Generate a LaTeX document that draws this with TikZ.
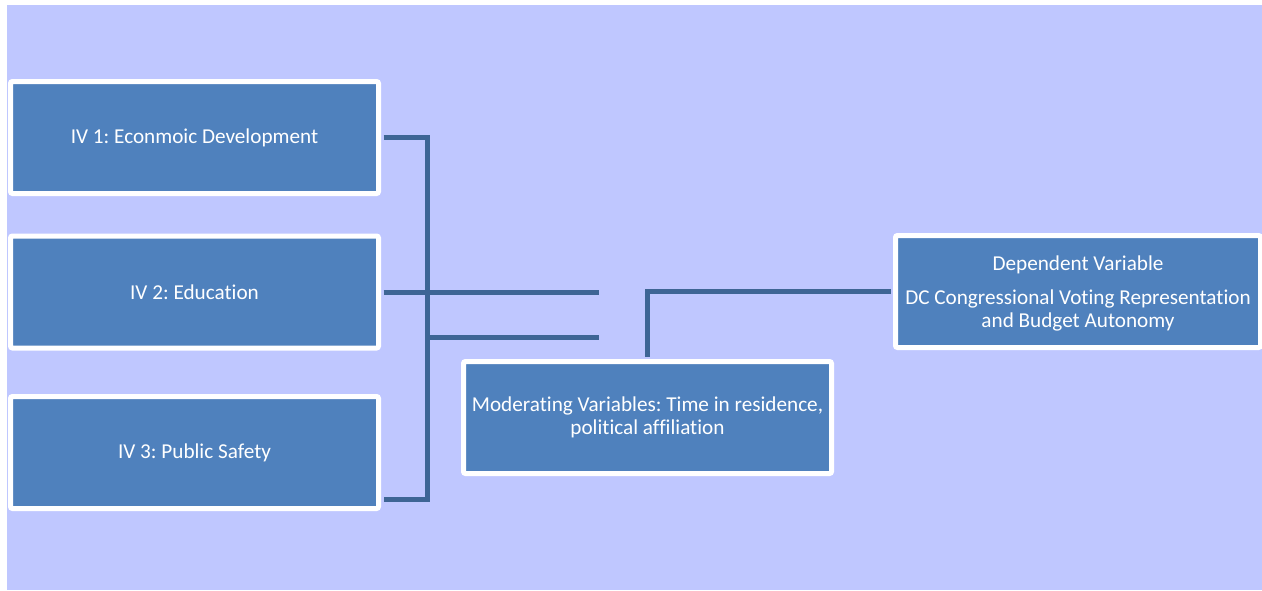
\documentclass[tikz,border=0pt]{standalone}
\usepackage{fontspec}
\setmainfont{Carlito}[Ligatures={NoCommon}]
\usepackage{xcolor}
\usepackage{tikz}
\usetikzlibrary{calc}
\frenchspacing
\definecolor{boxblue}{HTML}{4F81BD}
\definecolor{linkblue}{HTML}{3E6595}
\definecolor{lilac}{HTML}{BFC7FF}
\tikzset{vb/.style={rectangle,draw=white,line width=2.5pt,fill=boxblue,rounded corners=1pt,minimum width=184pt,minimum height=56pt,inner sep=2pt,text=white,font=\fontsize{10.6}{11.5}\selectfont,align=center},
ln/.style={linkblue,line width=2.5pt,shorten <=1.25pt,shorten >=1.25pt}}

\begin{document}
\begin{tikzpicture}[x=0.5pt,y=-0.5pt]
\useasboundingbox (0,0) rectangle (1262,590);
\fill[white] (0,0) rectangle (1262,590);
\fill[lilac] (7,5) rectangle (1262,590);
\node[vb] (iv1) at (194.5,137.5) {IV 1: Econmoic Development};
\node[vb] (iv2) at (194.5,292) {IV 2: Education};
\node[vb] (iv3) at (194.5,452.5) {IV 3: Public Safety};
\node[vb] (mod) at (647.5,417.5) {Moderating Variables: Time in residence,\\political affiliation};
\node[vb,minimum width=182.5pt] (dv) at (1078,291.5) {\rule{0pt}{9pt}Dependent Variable\\[5.5pt]DC Congressional Voting Representation\\and Budget Autonomy};
\coordinate (jTop) at (427,137.5); \coordinate (jBot) at (427,499);
\coordinate (j2) at (427,337); \coordinate (e1) at (601,292); \coordinate (e2) at (601,337);
\draw[ln] (iv1.east) -- (jTop) -- (jBot) -- (iv3.east |- jBot);
\draw[ln] (iv2.east) -- (e1);
\draw[ln,shorten <=0pt] (j2) -- (e2);
\draw[ln] (mod.north) |- (dv.west);
\end{tikzpicture}
\end{document}
